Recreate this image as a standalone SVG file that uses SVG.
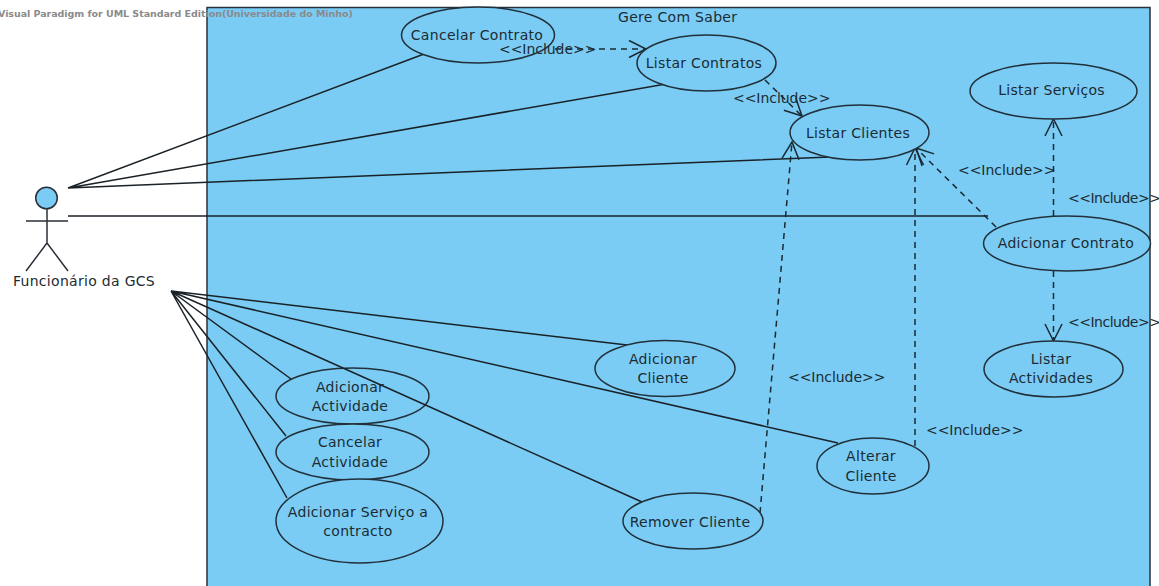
<svg xmlns="http://www.w3.org/2000/svg" width="1159" height="586" viewBox="0 0 1159 586">
<style>
text{font-family:"DejaVu Sans",sans-serif;font-size:14px;fill:#1c2b33;letter-spacing:.3px}
.c{text-anchor:middle}
.uc{fill:#7accf5;stroke:#22303a;stroke-width:1.5}
.a{stroke:#1a2228;stroke-width:1.5;fill:none}
.d{stroke:#1a2a33;stroke-width:1.5;fill:none;stroke-dasharray:6 5;marker-end:url(#open)}
.inc{letter-spacing:-.05px}
.edge{letter-spacing:-.5px}
.wm{font-size:9.5px;font-weight:bold;fill:#8a8a8a;letter-spacing:-.04px}
</style>
<defs>
<marker id="open" markerUnits="userSpaceOnUse" markerWidth="22" markerHeight="22" refX="18" refY="10" orient="auto">
<path d="M1 1.500L18 10L1 18.500" fill="none" stroke="#1a2a33" stroke-width="1.500"/>
</marker>
</defs>
<rect id="system" x="207" y="7.500" width="943" height="600" fill="#7accf5" stroke="#2a3138" stroke-width="1.500"/>
<text id="system-title" x="618" y="22">Gere Com Saber</text>
<g id="adicionar-actividade"><ellipse class="uc" cx="352.500" cy="396" rx="76.500" ry="28"/><text class="c" x="350" y="392">Adicionar</text><text class="c" x="350" y="411">Actividade</text></g>
<g id="connectors">
<path class="a" d="M68 188L424 54M68 188L666 84M68 188L830 157M68 216L988 216"/>
<path class="a" d="M171 291L627 345M171 291L838 443M171 291L642 502M171 291L291 379M171 291L286 436M171 291L287 498"/>
<path class="d" d="M555 49L646 49"/>
<path class="d" d="M765 80L802 116"/>
<path class="d" d="M760 513L792 142"/>
<path class="d" d="M915 446L915 148"/>
<path class="d" d="M996 227L916 148"/>
<path class="d" d="M1053.500 216L1053.500 119"/>
<path class="d" d="M1053.500 271L1053.500 341"/>
</g>
<g id="actor" stroke="#2a3138" stroke-width="1.500" fill="none">
<circle cx="46.500" cy="198" r="10.800" fill="#7accf5"/>
<path d="M47 209V243M26 221H68M47 243L26 271M47 243L68 271"/>
<text x="84" y="286" class="c" stroke="none">Funcionário da GCS</text>
</g>
<g id="cancelar-contrato"><ellipse class="uc" cx="478" cy="35" rx="76.500" ry="28"/><text class="c" x="477" y="40">Cancelar Contrato</text></g>
<g id="listar-contratos"><ellipse class="uc" cx="706.500" cy="63" rx="69.500" ry="28"/><text class="c" x="704" y="68">Listar Contratos</text></g>
<g id="listar-clientes"><ellipse class="uc" cx="859.500" cy="132.500" rx="69.500" ry="27.500"/><text class="c" x="858" y="138">Listar Clientes</text></g>
<g id="listar-servicos"><ellipse class="uc" cx="1053.500" cy="91" rx="83.500" ry="28"/><text class="c" x="1051.500" y="95">Listar Serviços</text></g>
<g id="adicionar-contrato"><ellipse class="uc" cx="1067" cy="243.500" rx="83.500" ry="27.500"/><text class="c" x="1066" y="248">Adicionar Contrato</text></g>
<g id="listar-actividades"><ellipse class="uc" cx="1053.500" cy="369" rx="69.500" ry="28"/><text class="c" x="1051" y="364">Listar</text><text class="c" x="1051" y="383">Actividades</text></g>
<g id="adicionar-cliente"><ellipse class="uc" cx="665" cy="368.500" rx="70" ry="28"/><text class="c" x="663" y="364">Adicionar</text><text class="c" x="663" y="383">Cliente</text></g>
<g id="alterar-cliente"><ellipse class="uc" cx="873" cy="466" rx="56" ry="28"/><text class="c" x="871" y="461">Alterar</text><text class="c" x="871" y="481">Cliente</text></g>
<g id="remover-cliente"><ellipse class="uc" cx="693" cy="521" rx="70" ry="28"/><text class="c" x="690" y="527">Remover Cliente</text></g>
<g id="cancelar-actividade"><ellipse class="uc" cx="352.500" cy="452" rx="76.500" ry="28"/><text class="c" x="350" y="447">Cancelar</text><text class="c" x="350" y="467">Actividade</text></g>
<g id="adicionar-servico"><ellipse class="uc" cx="359.500" cy="521" rx="83.500" ry="42"/><text class="c" x="358" y="517">Adicionar Serviço a</text><text class="c" x="358" y="536">contracto</text></g>
<g id="connector-labels">
<text class="inc" x="499" y="54">&lt;&lt;Include&gt;&gt;</text>
<text class="inc" x="733" y="103">&lt;&lt;Include&gt;&gt;</text>
<text class="inc" x="958" y="175">&lt;&lt;Include&gt;&gt;</text>
<text class="edge" x="1068" y="203">&lt;&lt;Include&gt;&gt;</text>
<text class="edge" x="1068" y="327">&lt;&lt;Include&gt;&gt;</text>
<text class="inc" x="788" y="382">&lt;&lt;Include&gt;&gt;</text>
<text class="inc" x="926" y="435">&lt;&lt;Include&gt;&gt;</text>
</g>
<text class="wm" x="-2" y="17">Visual Paradigm for UML Standard Edition(Universidade do Minho)</text>
</svg>
